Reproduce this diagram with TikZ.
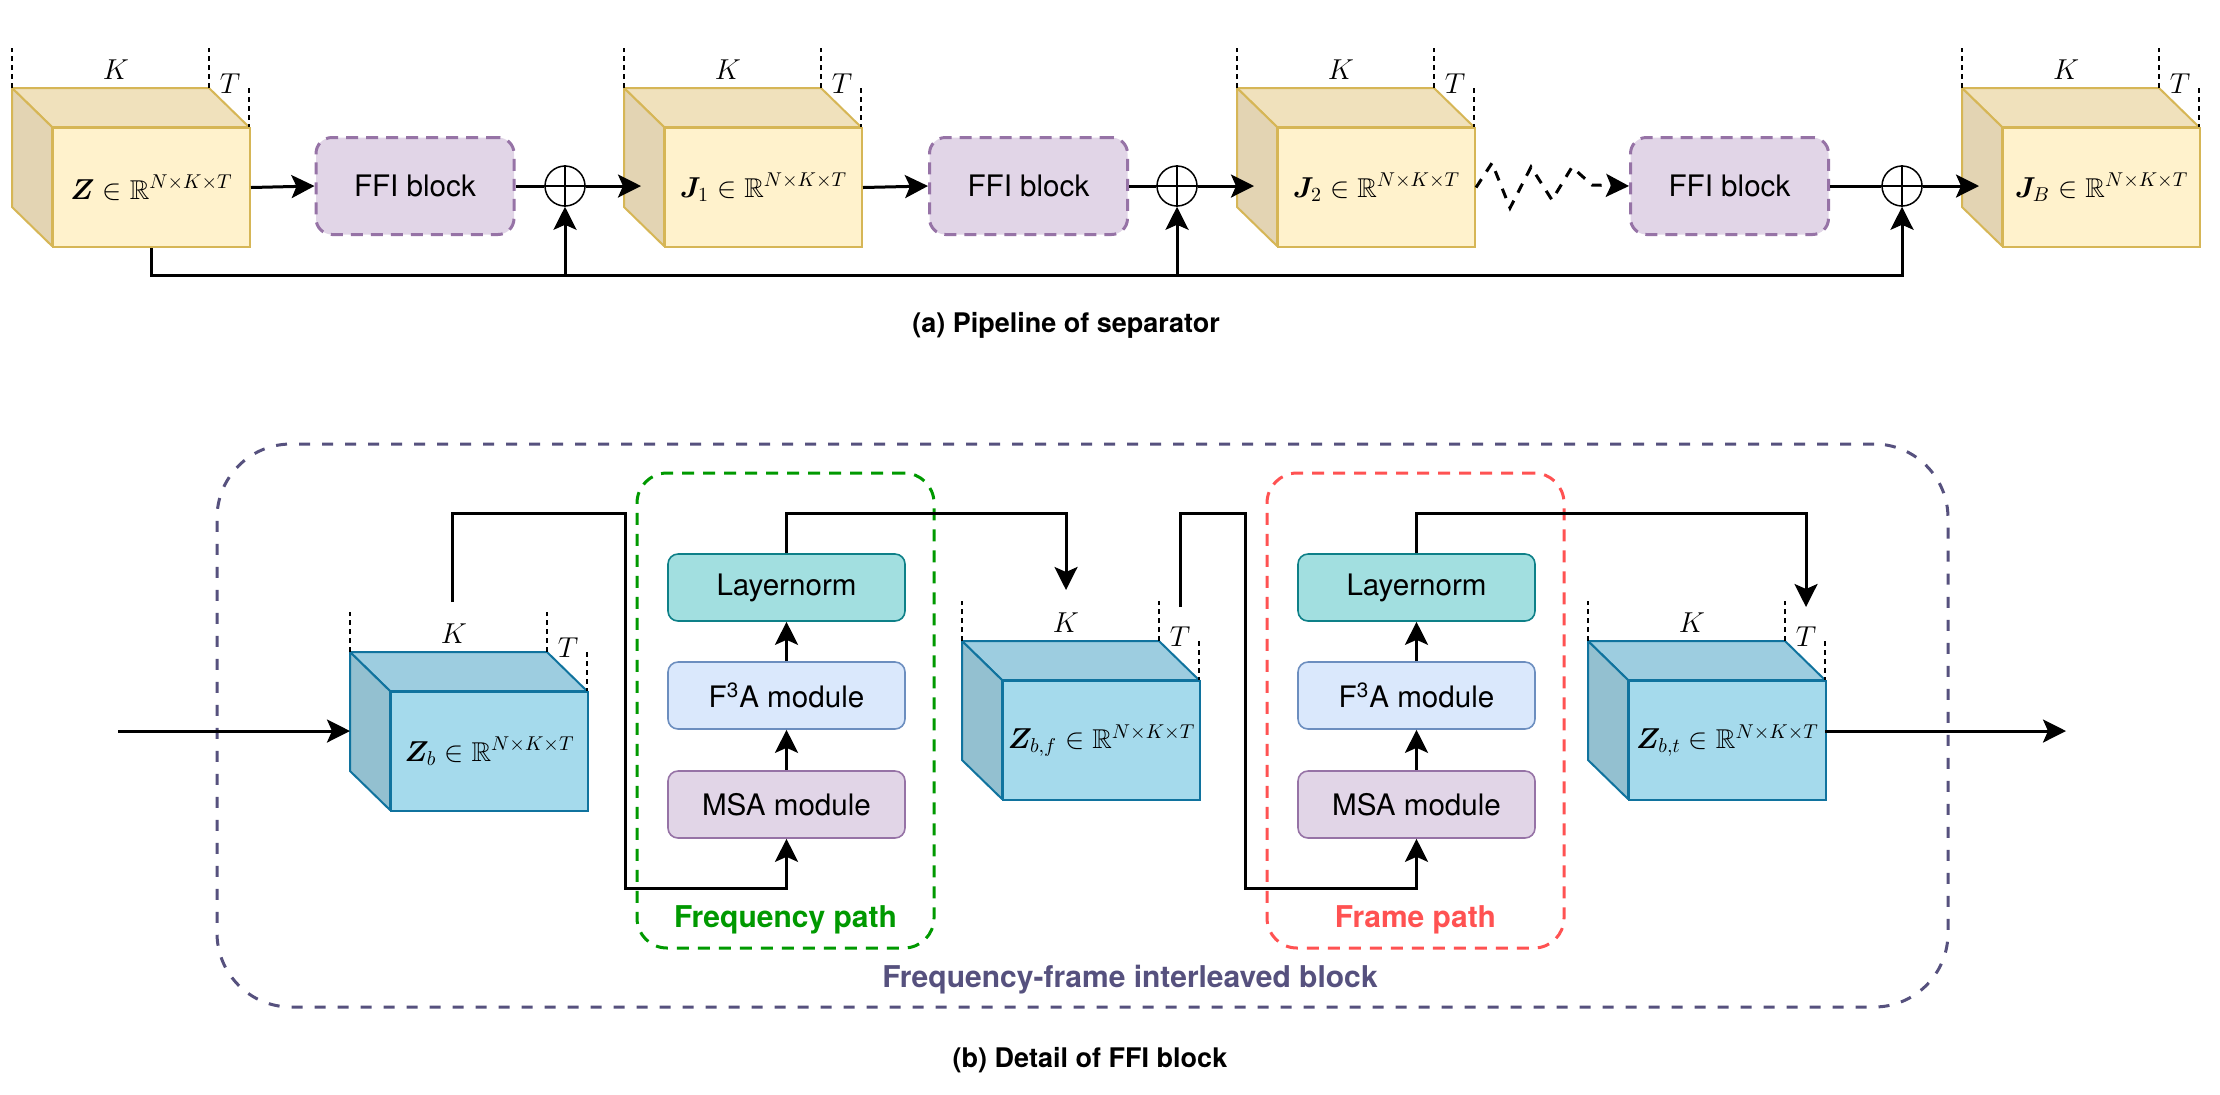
\documentclass[tikz,border=0pt]{standalone}
\usepackage{amsmath,amssymb,bm}
\usepackage[no-math]{fontspec}
\setmainfont{TeX Gyre Heros}
\usetikzlibrary{arrows.meta,calc}
\definecolor{yFront}{HTML}{FFF2CC}
\definecolor{yTop}{HTML}{F0E1BC}
\definecolor{ySide}{HTML}{E3D4B3}
\definecolor{yBorder}{HTML}{D6B656}
\definecolor{bFront}{HTML}{A5DAEC}
\definecolor{bTop}{HTML}{9DCDE0}
\definecolor{bSide}{HTML}{93C0D0}
\definecolor{bBorder}{HTML}{10739E}
\definecolor{ffiFill}{HTML}{E1D5E7}
\definecolor{ffiDraw}{HTML}{9673A6}
\definecolor{lnFill}{HTML}{A2DFE0}
\definecolor{lnDraw}{HTML}{0E8088}
\definecolor{faFill}{HTML}{DAE8FC}
\definecolor{faDraw}{HTML}{6C8EBF}
\definecolor{grn}{HTML}{009900}
\definecolor{rd}{HTML}{FF5252}
\definecolor{navy}{HTML}{56517E}
\tikzset{
  arr/.style={line width=1.5pt,-{Stealth[length=11.5pt,width=11.5pt,inset=2.5pt]}},
  plainline/.style={line width=1.5pt},
  dimline/.style={line width=0.7pt,dash pattern=on 2.5pt off 2pt},
  mathlbl/.style={font=\fontsize{14}{16}\selectfont,inner sep=0pt},
  cubeface/.style={line width=1pt,line join=round},
  ffibox/.style={draw=ffiDraw,fill=ffiFill,line width=1.5pt,dash pattern=on 6pt off 4pt,
    rounded corners=8pt,minimum width=99pt,minimum height=48.5pt,
    font=\fontsize{14.8}{17}\selectfont},
  oplus/.style={circle,draw,fill=white,line width=0.75pt,minimum size=20pt,inner sep=0pt},
  modbox/.style={rounded corners=5pt,line width=0.8pt,minimum width=118.5pt,
    minimum height=33.5pt,font=\fontsize{14.8}{17}\selectfont},
  pathbox/.style={line width=1.5pt,dash pattern=on 6pt off 4.5pt,rounded corners=15pt,
    minimum width=148.5pt,minimum height=237.5pt},
  pathlbl/.style={font=\fontsize{15}{17}\selectfont\bfseries},
  caplbl/.style={font=\fontsize{13.5}{16}\selectfont\bfseries}
}
% name, x, y, front, top, side, border, label
\newcommand\mkcube[8]{%
\begin{scope}[shift={(#2,#3)}]
  \filldraw[cubeface,draw=#7,fill=#5] (0,0) -- (197,0) -- (237,39) -- (40,39) -- cycle;
  \filldraw[cubeface,draw=#7,fill=#6] (0,0) -- (40,39) -- (40,158) -- (0,119) -- cycle;
  \node[draw=#7,fill=#4,line width=1pt,minimum width=98.5pt,minimum height=59.5pt,
        inner sep=0pt,anchor=north west,font=\fontsize{13.6}{16}\selectfont] (#1) at (40,39) {#8};
  \draw[dimline] (0,0) -- (0,-40);
  \draw[dimline] (197,0) -- (197,-40);
  \draw[dimline] (237,0) -- (237,39);
  \node[mathlbl] (#1K) at (104,-18) {$K$};
  \node[mathlbl] (#1T) at (218,-4) {$T$};
  \coordinate (#1in) at (17,98);
  \coordinate (#1mid) at (0,79);
  \coordinate (#1out) at (237,90);
  \coordinate (#1topK) at (102,-50);
  \coordinate (#1arrK) at (104,-51);
  \coordinate (#1topT) at (218,-34);
\end{scope}}
\begin{document}
\begin{tikzpicture}[x=0.5pt,y=-0.5pt]
\useasboundingbox (0,0) rectangle (2220,1094);
% ---------------- (a) pipeline ----------------
\mkcube{Z}{12}{88}{yFront}{yTop}{ySide}{yBorder}{$\bm{Z}\in\mathbb{R}^{N\times K\times T}$}
\mkcube{J1}{624}{88}{yFront}{yTop}{ySide}{yBorder}{$\bm{J}_1\in\mathbb{R}^{N\times K\times T}$}
\mkcube{J2}{1237}{88}{yFront}{yTop}{ySide}{yBorder}{$\bm{J}_2\in\mathbb{R}^{N\times K\times T}$}
\mkcube{JB}{1962}{88}{yFront}{yTop}{ySide}{yBorder}{$\bm{J}_B\in\mathbb{R}^{N\times K\times T}$}
\node[ffibox] (F1) at (415,186) {FFI block};
\node[ffibox] (F2) at (1028.5,186) {FFI block};
\node[ffibox] (F3) at (1729.5,186) {FFI block};
\node[oplus] (p1) at (565,186) {};
\node[oplus] (p2) at (1177,186) {};
\node[oplus] (p3) at (1902,186) {};
\foreach \p in {p1,p2,p3}{
  \draw[line width=0.75pt] (\p.north) -- (\p.south) (\p.west) -- (\p.east);
}
\coordinate (bus) at (0,275);
\draw[arr] (Z.east) -- (F1.west);
\draw[plainline] (F1.east) -- (p1.west);
\draw[arr] (p1.east) -- (J1in);
\draw[arr] (J1.east) -- (F2.west);
\draw[plainline] (F2.east) -- (p2.west);
\draw[arr] (p2.east) -- (J2in);
\draw[plainline,dash pattern=on 5pt off 4.5pt,-{Stealth[length=11.5pt,width=11.5pt,inset=2.5pt]}]
  (J2.east) -- (1492,163) -- (1510,208) -- (1531,167) -- (1552,200) -- (1572,167)
  -- (1592,185) -- (F3.west);
\draw[plainline] (F3.east) -- (p3.west);
\draw[arr] (p3.east) -- (JBin);
\draw[arr] (Z.south) |- (p3.south |- bus) -- (p3.south);
\draw[arr] (p1.south |- bus) -- (p1.south);
\draw[arr] (p2.south |- bus) -- (p2.south);
\node[caplbl] (capa) at (1066,325) {(a) Pipeline of separator};
% ---------------- (b) FFI block ----------------
\node[draw=navy,line width=1.5pt,dash pattern=on 5.5pt off 6pt,rounded corners=37pt,
      minimum width=865.5pt,minimum height=281.5pt] (big) at (1082.5,725.5) {};
\node[pathbox,draw=grn] (fpath) at (785.5,710.5) {};
\node[pathbox,draw=rd] (tpath) at (1415.5,710.5) {};
\node[pathlbl,text=grn] (fpl) at (785.5,920) {Frequency path};
\node[pathlbl,text=rd] (tpl) at (1415.5,920) {Frame path};
\node[pathlbl,text=navy] (bigl) at (1130,980) {Frequency-frame interleaved block};
\mkcube{Zb}{350}{652}{bFront}{bTop}{bSide}{bBorder}{$\bm{Z}_b\in\mathbb{R}^{N\times K\times T}$}
\mkcube{Zbf}{962}{641}{bFront}{bTop}{bSide}{bBorder}{$\bm{Z}_{b,f}\in\mathbb{R}^{N\times K\times T}$}
\mkcube{Zbt}{1588}{641}{bFront}{bTop}{bSide}{bBorder}{$\bm{Z}_{b,t}\in\mathbb{R}^{N\times K\times T}$}
\node[modbox,draw=lnDraw,fill=lnFill] (LN1) at (786.5,587.5) {Layernorm};
\node[modbox,draw=faDraw,fill=faFill] (FA1) at (786.5,695.5) {F\textsuperscript{3}A module};
\node[modbox,draw=ffiDraw,fill=ffiFill] (MSA1) at (786.5,804.5) {MSA module};
\node[modbox,draw=lnDraw,fill=lnFill] (LN2) at (1416.5,587.5) {Layernorm};
\node[modbox,draw=faDraw,fill=faFill] (FA2) at (1416.5,695.5) {F\textsuperscript{3}A module};
\node[modbox,draw=ffiDraw,fill=ffiFill] (MSA2) at (1416.5,804.5) {MSA module};
\coordinate (topbus) at (0,513);
\coordinate (c1) at (625,888);
\coordinate (c2) at (1245,888);
\coordinate (inb) at (118,731);
\coordinate (outb) at (2066,731);
\draw[arr] (inb) -- (Zbmid);
\draw[arr] (ZbtopK) -- (ZbtopK |- topbus) -| (c1) -| (MSA1.south);
\draw[arr] (MSA1.north) -- (FA1.south);
\draw[arr] (FA1.north) -- (LN1.south);
\draw[arr] (LN1.north) -- (LN1.north |- topbus) -| (ZbfarrK);
\draw[arr] (ZbftopT) -- (ZbftopT |- topbus) -| (c2) -| (MSA2.south);
\draw[arr] (MSA2.north) -- (FA2.south);
\draw[arr] (FA2.north) -- (LN2.south);
\draw[arr] (LN2.north) -- (LN2.north |- topbus) -| (ZbttopT);
\draw[arr] (Zbtout) -- (outb);
\node[caplbl] (capb) at (1090,1060) {(b) Detail of FFI block};
\end{tikzpicture}
\end{document}
